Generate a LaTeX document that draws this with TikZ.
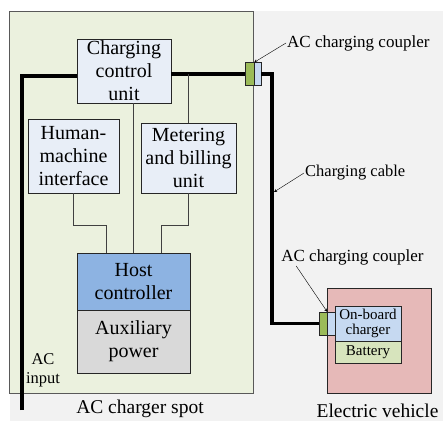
\documentclass[tikz,border=0pt]{standalone}
\usepackage{fontspec}
\setmainfont{Liberation Serif}
\usetikzlibrary{arrows}
\definecolor{bggray}{HTML}{F2F2F2}
\definecolor{spotgreen}{HTML}{EBF1DE}
\definecolor{unitblue}{HTML}{E8EEF7}
\definecolor{hostblue}{HTML}{8DB3E2}
\definecolor{auxgray}{HTML}{D9D9D9}
\definecolor{evpink}{HTML}{E6B9B8}
\definecolor{obcblue}{HTML}{C6D9F1}
\definecolor{batgreen}{HTML}{D7E4BD}
\definecolor{pluggreen}{HTML}{9BBB59}
\tikzstyle{unit} = [rectangle, draw=black!85, fill=unitblue, align=center, inner sep=0pt, font=\fontsize{20}{23}\selectfont]
\tikzstyle{smallunit} = [rectangle, draw=black!85, align=center, inner sep=0pt, font=\fontsize{15}{15}\selectfont]
\tikzstyle{area} = [rectangle, draw=black!65, inner sep=0pt]
\tikzstyle{plug} = [rectangle, draw=black!85, inner sep=0pt, minimum height=23pt]
\tikzstyle{note} = [inner sep=1pt, align=center, font=\fontsize{17}{19}\selectfont]
\tikzstyle{title} = [inner sep=0pt, font=\fontsize{19.5}{22}\selectfont]
\tikzstyle{cable} = [line width=3.3pt, black]
\tikzstyle{wire} = [line width=1.1pt, black!75]
\tikzstyle{arrow} = [thin,->,>=stealth]

\begin{document}
\begin{tikzpicture}[x=1pt,y=-1pt]
        \useasboundingbox (0,0) rectangle (443,421);
        \fill[bggray] (10,11) rectangle (443,421);

        \node (spot) [area, fill=spotgreen, minimum width=244pt, minimum height=382pt] at (131,202) {};
        \node (ccu) [unit, minimum width=94pt, minimum height=64pt] at (124,71) {Charging\\control\\unit};
        \node (hmi) [unit, minimum width=91pt, minimum height=74pt] at (73.5,156) {Human-\\machine\\interface};
        \node (mbu) [unit, minimum width=95pt, minimum height=70pt] at (188.5,158) {Metering\\and billing\\unit};
        \node (host) [unit, fill=hostblue, minimum width=113pt, minimum height=57pt] at (133.5,281.5) {Host\\controller};
        \node (aux) [unit, fill=auxgray, minimum width=113pt, minimum height=63pt] at (133.5,341.5) {Auxiliary\\power};

        \node (ev) [area, draw=black!85, fill=evpink, minimum width=104pt, minimum height=105pt] at (379,340.5) {};
        \node (obc) [smallunit, fill=obcblue, minimum width=66pt, minimum height=35pt] at (368,323.5) {On-board\\charger};
        \node (bat) [smallunit, fill=batgreen, minimum width=66pt, minimum height=22pt] at (368,352) {Battery};

        \node (cp1g) [plug, fill=pluggreen, minimum width=9pt] at (249.5,74) {};
        \node (cp1b) [plug, fill=obcblue, minimum width=7pt] at (257.5,74) {};
        \node (cp2g) [plug, fill=pluggreen, minimum width=8pt] at (323,323.5) {};
        \node (cp2b) [plug, fill=obcblue, minimum width=8pt] at (331,323.5) {};

        \node (lblcp1) [note, anchor=west] at (286,43) {AC charging coupler};
        \node (lblcable) [note, anchor=west, font=\fontsize{16.5}{18}\selectfont] at (304,173) {Charging cable};
        \node (lblcp2) [note] at (352.5,257) {AC charging coupler};
        \node (lblin) [note, font=\fontsize{16.5}{19}\selectfont] at (43,370) {AC\\input};
        \node (spotname) [title] at (140,409) {AC charger spot};
        \node (evname) [title] at (377.5,411) {Electric vehicle};

        \coordinate (acin) at (22,410);
        \coordinate (bend) at (272,74);
        \coordinate (cablehit) at (274,192);

        % Cables
        \draw [cable] (acin) |- ([yshift=-5pt]ccu.west);
        \draw [cable] ([yshift=-3pt]ccu.east) -- (cp1g.west);
        \draw [cable] (cp1b.east) -- (bend) |- (cp2g.west);

        % Wires
        \draw [wire] (host.north) -- (host.north |- ccu.south);
        \draw [wire] (mbu.north) -- (mbu.north |- cp1g.west);
        \draw [wire] (mbu.south) -- ++(0,32) -| ([xshift=28pt]host.north);
        \draw [wire] (hmi.south) -- ++(0,32) -| ([xshift=-27pt]host.north);

        % Arrows
        \draw [arrow] (lblcp1.west) -- (cp1g.north east);
        \draw [arrow] (lblcable.west) -- (cablehit);
        \draw [arrow] ([xshift=16pt]lblcp2.south west) -- (cp2g.north east);

\end{tikzpicture}
\end{document}
